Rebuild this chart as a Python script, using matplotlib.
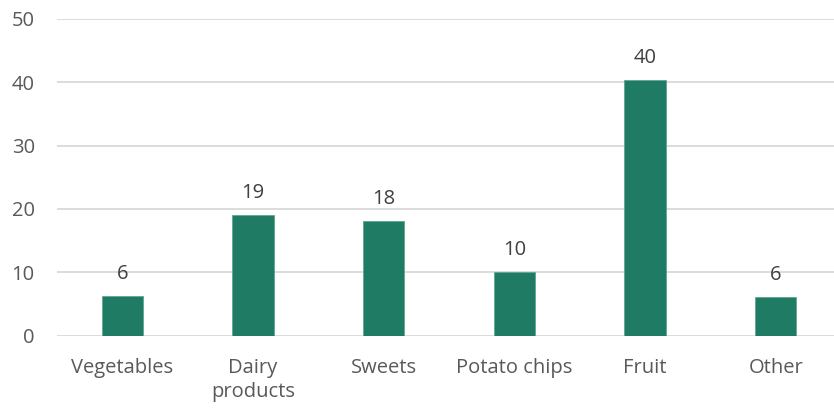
import matplotlib.pyplot as plt

categories = ["Vegetables", "Dairy\nproducts", "Sweets", "Potato chips", "Fruit", "Other"]
values = [6.3, 19.1, 18.1, 10.1, 40.4, 6.1]
y_ticks = [0, 10, 20, 30, 40, 50]

plt.rcParams['font.family'] = ['Open Sans', 'DejaVu Sans']

fig = plt.figure(figsize=(8.34, 4.08), dpi=100)
# axes runs slightly past the right edge, like the cropped original
ax = fig.add_axes([57 / 834, 1 - 335.7 / 408, 784 / 834, (335.7 - 18.7) / 408])

x = range(len(categories))
bars = ax.bar(x, values, width=0.315, color='#1f7b63', edgecolor='#5fa693', linewidth=0.6, zorder=3)

for b, v in zip(bars, values):
    ax.annotate(f"{v:.0f}", (b.get_x() + b.get_width() / 2, v), xytext=(0, 8.5),
                textcoords='offset points', ha='center', va='bottom',
                fontsize=14.5, color='#404040')

ax.set_xlim(-0.5, len(categories) - 0.5)
ax.set_ylim(0, 50)
ax.set_yticks(y_ticks)
ax.set_xticks(list(x))
ax.set_xticklabels(categories, fontsize=14.5, color='#595959', linespacing=1.3)
ax.tick_params(axis='y', labelsize=14.5, labelcolor='#595959', length=0, pad=16)
ax.tick_params(axis='x', length=0, pad=16)

ax.grid(axis='y', color='#d9d9d9', linewidth=1.3, zorder=0)
for s in ax.spines.values():
    s.set_visible(False)

fig.savefig("out.png", dpi=100)
